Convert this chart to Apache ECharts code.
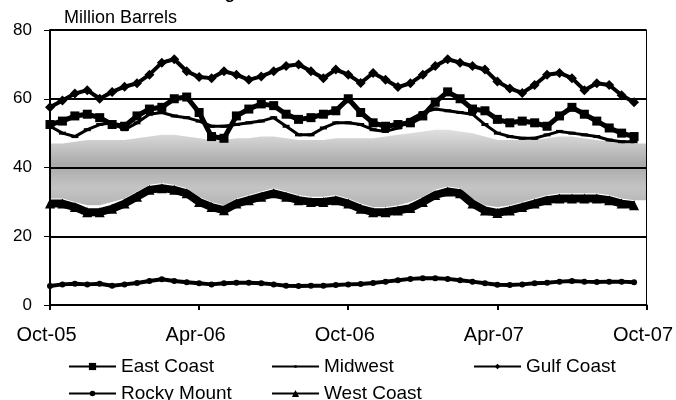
<!DOCTYPE html>
<html>
<head>
<meta charset="utf-8">
<script src="https://cdn.jsdelivr.net/npm/echarts@6/dist/echarts.min.js"></script>
<style>
  html, body { margin: 0; padding: 0; background: #fff; }
  #chart { width: 676px; height: 400px; }
</style>
</head>
<body>
<div id="chart"></div>
<script>
// half-month steps, Oct-05 .. Oct-07
var dates = [
  '2005-10-01', '2005-10-16', '2005-11-01', '2005-11-16', '2005-12-01', '2005-12-16',
  '2006-01-01', '2006-01-16', '2006-02-01', '2006-02-16', '2006-03-01', '2006-03-16',
  '2006-04-01', '2006-04-16', '2006-05-01', '2006-05-16', '2006-06-01', '2006-06-16',
  '2006-07-01', '2006-07-16', '2006-08-01', '2006-08-16', '2006-09-01', '2006-09-16',
  '2006-10-01', '2006-10-16', '2006-11-01', '2006-11-16', '2006-12-01', '2006-12-16',
  '2007-01-01', '2007-01-16', '2007-02-01', '2007-02-16', '2007-03-01', '2007-03-16',
  '2007-04-01', '2007-04-16', '2007-05-01', '2007-05-16', '2007-06-01', '2007-06-16',
  '2007-07-01', '2007-07-16', '2007-08-01', '2007-08-16', '2007-09-01', '2007-09-16',
  '2007-10-01'
]
var tickLabels = ['Oct-05', 'Apr-06', 'Oct-06', 'Apr-07', 'Oct-07']

var eastCoast = [52.5, 53.5, 55, 55.5, 54.5, 52.5, 52, 55, 57, 57.5, 60, 60.5,
  56, 49, 48.5, 55, 57, 58.5, 58, 55.5, 54, 54.5, 55.5, 56.5,
  60, 56, 53, 52, 52.5, 53, 55, 59, 62, 60, 57, 56.5,
  54, 53, 53.5, 53, 52, 55, 57.5, 55.5, 53.5, 51.5, 50, 49]
var midwest = [52, 50, 49, 51, 52.5, 53, 51, 53, 55.5, 56, 55, 54.5,
  53.5, 52, 52, 52.5, 53, 53.5, 54.5, 52, 49.5, 49.5, 51.5, 53,
  53, 52.5, 51, 50.5, 51.5, 54, 56, 57, 56.5, 56, 55.5, 52.5,
  50, 49, 48.5, 48.5, 49.5, 50.5, 50, 49.5, 49, 48, 47.5, 47.5]
var gulfCoast = [57.5, 59.5, 61.5, 62.5, 60, 62, 63.5, 64.5, 67, 70.5, 71.5, 68,
  66.3, 66, 68, 67, 65.5, 66.5, 68, 69.5, 70, 68, 66, 68.5,
  67, 64.6, 67.5, 65.5, 63.4, 64.5, 67, 69.5, 71.5, 70.5, 69.5, 68.5,
  65, 63, 61.7, 64, 67, 67.5, 66, 62.5, 64.5, 64, 61, 59]
var rockyMount = [5.5, 6, 6.2, 6, 6.2, 5.6, 6, 6.4, 7, 7.5, 7, 6.6,
  6.3, 6, 6.3, 6.5, 6.5, 6.3, 6, 5.6, 5.5, 5.6, 5.6, 5.8,
  6, 6.1, 6.4, 6.8, 7.2, 7.6, 7.8, 7.8, 7.6, 7.2, 6.8, 6.3,
  5.9, 5.8, 6, 6.3, 6.5, 6.8, 7, 6.8, 6.7, 6.8, 6.8, 6.6]
var westCoast = [29.5, 29.5, 28.5, 27, 27, 28, 29.5, 31.5, 33.5, 34, 33.5, 32.5,
  30, 28.5, 27.6, 29.5, 30.5, 31.5, 32.5, 31.5, 30.5, 30, 30, 30.5,
  29.5, 28, 27, 27, 27.5, 28.2, 30, 32, 33, 32.5, 29.5, 27.5,
  26.8, 27.5, 28.5, 29.5, 30.5, 31, 31, 31, 31, 30.5, 29.5, 29]
// grey shaded band behind the lines
var bandLow = [31, 31, 30, 29, 29, 30, 31, 33, 35, 35.5, 35, 34,
  31.5, 30, 29, 31, 32, 33, 34, 33, 32, 31.5, 31.5, 32,
  31, 29.5, 28.5, 28.5, 29, 30, 31.5, 33.5, 34.5, 34, 31, 29,
  28.5, 29, 30, 31, 32, 32.5, 32.5, 32.5, 32.5, 32, 31, 30.5, 30.5]
var bandHigh = [47, 47, 47.5, 48, 48, 48, 48, 48.5, 49, 49.5, 49.5, 49,
  48.5, 48, 48, 48.5, 48.5, 49, 49, 48.5, 48, 48, 48, 48.5,
  48.5, 48.5, 48.5, 49, 49.5, 50, 50.5, 51, 51, 50.5, 50, 49,
  48, 48, 48, 48, 48.5, 49, 49, 48.5, 48, 47.5, 47, 47, 47]

var chart = echarts.init(document.getElementById('chart'))
var font = 'Liberation Sans'

function legendItem(name, left, top, h) {
  return {
    data: [name],
    left: left,
    top: top,
    padding: 0,
    itemWidth: 47,
    itemHeight: h || 9,
    itemGap: 0,
    lineStyle: { width: 2 },
    textStyle: { fontSize: 19, color: '#000', fontFamily: font }
  }
}

function lineSeries(name, data, symbol, size, width) {
  return {
    name: name,
    type: 'line',
    data: data,
    symbol: symbol,
    symbolSize: size,
    showAllSymbol: true,
    lineStyle: { color: '#000', width: width },
    itemStyle: { color: '#000' },
    z: 3
  }
}

var option = {
  animation: false,
  backgroundColor: '#fff',
  textStyle: { fontFamily: font },
  title: [
    {
      text: 'Regional Gasoline Stocks',
      left: 203,
      top: -14,
      padding: 0,
      textStyle: { fontSize: 17, fontWeight: 'bold', color: '#000', fontFamily: font }
    },
    {
      text: 'Million Barrels',
      left: 64,
      top: 9,
      padding: 0,
      textStyle: { fontSize: 18, fontWeight: 'normal', color: '#000', fontFamily: font }
    }
  ],
  grid: {
    left: 50,
    right: 29,
    top: 30,
    bottom: 95,
    show: true,
    borderColor: '#000',
    borderWidth: 1
  },
  legend: [
    legendItem('East Coast', 68, 357),
    legendItem('Midwest', 271, 357, 3),
    legendItem('Gulf Coast', 473, 357, 7),
    legendItem('Rocky Mount', 68, 384, 7),
    legendItem('West Coast', 271, 384)
  ],
  xAxis: {
    type: 'category',
    data: dates,
    boundaryGap: false,
    axisLine: { lineStyle: { color: '#000', width: 2 } },
    axisTick: { interval: 11, length: 5, lineStyle: { color: '#000', width: 2 } },
    axisLabel: {
      interval: 11,
      formatter: function(v, i) { return tickLabels[i / 12] },
      fontSize: 20,
      color: '#000',
      margin: 20,
      padding: [0, 7, 0, 0]
    },
    splitLine: { show: false }
  },
  yAxis: {
    type: 'value',
    min: 0,
    max: 80,
    interval: 20,
    axisLine: { show: true, lineStyle: { color: '#000', width: 2 } },
    axisTick: { show: true, length: 6, lineStyle: { color: '#000' } },
    axisLabel: { fontSize: 17, color: '#000', margin: 18 },
    splitLine: { lineStyle: { color: '#000', width: 2 } }
  },
  series: [
    {
      name: 'bandBase',
      type: 'line',
      data: bandLow,
      stack: 'band',
      symbol: 'none',
      lineStyle: { opacity: 0 },
      silent: true,
      z: -1
    },
    {
      name: 'bandSpan',
      type: 'line',
      data: bandHigh.map(function(h, i) { return h - bandLow[i] }),
      stack: 'band',
      symbol: 'none',
      lineStyle: { opacity: 0 },
      areaStyle: {
        color: new echarts.graphic.LinearGradient(0, 0, 0, 1, [
          { offset: 0, color: '#e0e0e0' },
          { offset: 0.45, color: '#a9a9a9' },
          { offset: 0.75, color: '#c4c4c4' },
          { offset: 1, color: '#b4b4b4' }
        ]),
        opacity: 1
      },
      silent: true,
      z: -1
    },
    lineSeries('West Coast', westCoast, 'triangle', 10, 8),
    lineSeries('Rocky Mount', rockyMount, 'circle', 6, 4),
    lineSeries('Midwest', midwest, 'rect', [7, 3], 3),
    lineSeries('East Coast', eastCoast, 'rect', 9, 5),
    lineSeries('Gulf Coast', gulfCoast, 'diamond', 10, 4)
  ]
}

chart.setOption(option)
</script>
</body>
</html>
